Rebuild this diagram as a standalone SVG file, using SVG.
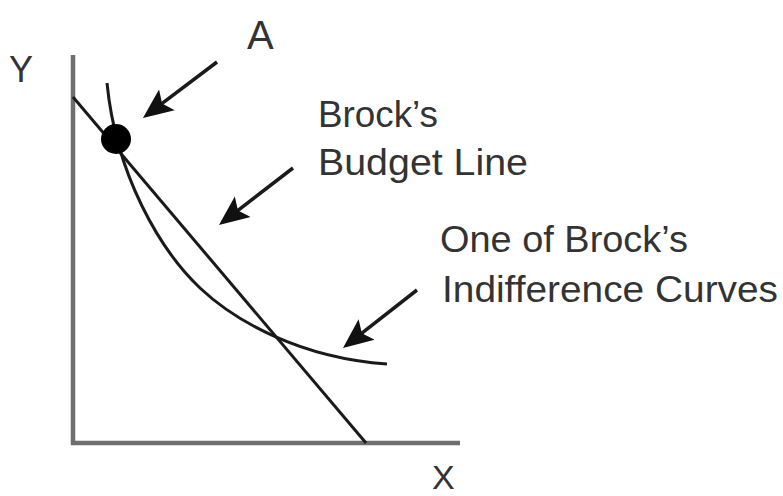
<svg xmlns="http://www.w3.org/2000/svg" width="783" height="496" viewBox="0 0 783 496">
<style>
.axis{stroke:#6e6e6e;stroke-width:4.5;fill:none}
.curve{stroke:#1a1a1a;stroke-width:3;fill:none}
.arrow{stroke:#1a1a1a;stroke-width:3.5;fill:none;marker-end:url(#head)}
text{font-family:"Liberation Sans",Arial,sans-serif;fill:#333;font-size:36px}
</style>
<defs>
<marker id="head" viewBox="0 -14 30 28" refX="8" refY="0" markerWidth="30" markerHeight="28" markerUnits="userSpaceOnUse" orient="auto">
<path d="M0,-13 L30,0 L0,13 L6,0 Z" fill="#111"/>
</marker>
</defs>
<rect width="783" height="496" fill="#fff"/>
<g id="axes">
<line class="axis" x1="73" y1="55" x2="73" y2="445"/>
<line class="axis" x1="71" y1="443" x2="460" y2="443"/>
<text x="9" y="82">Y</text>
<text x="432" y="489" style="font-size:34px">X</text>
</g>
<g id="budget-line">
<line class="curve" x1="73" y1="97" x2="366" y2="443"/>
</g>
<g id="indifference-curve">
<path class="curve" d="M107,83 C116,175 160,250 200,288 C235,321 300,358 387,364"/>
</g>
<g id="point-a">
<circle cx="116" cy="139" r="15" fill="#000"/>
</g>
<g id="connectors">
<line class="arrow" x1="217" y1="62" x2="160.5" y2="104.7"/>
<line class="arrow" x1="293" y1="168" x2="236.4" y2="211.6"/>
<line class="arrow" x1="417" y1="290" x2="360.3" y2="334.4"/>
</g>
<g id="labels">
<text x="247" y="49" style="font-size:40px">A</text>
<text x="318" y="127" textLength="120" lengthAdjust="spacingAndGlyphs">Brock’s</text>
<text x="318" y="175" textLength="210" lengthAdjust="spacingAndGlyphs">Budget Line</text>
<text x="440" y="252" textLength="248" lengthAdjust="spacingAndGlyphs">One of Brock’s</text>
<text x="442" y="302" textLength="336" lengthAdjust="spacingAndGlyphs">Indifference Curves</text>
</g>
</svg>
